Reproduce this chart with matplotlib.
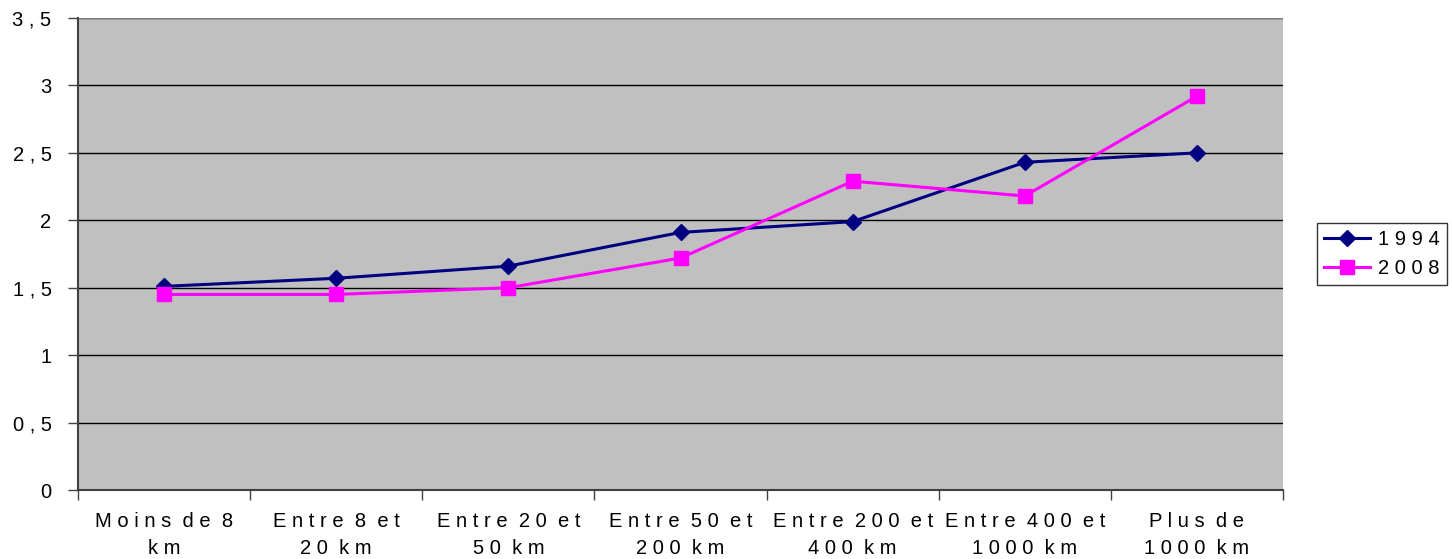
import numpy as np
import matplotlib
matplotlib.use('Agg')
import matplotlib.pyplot as plt
from matplotlib.ticker import FixedLocator, NullFormatter

# Distance classes and mean values for both survey years
categories = ['Moins de 8\nkm', 'Entre 8 et\n20 km', 'Entre 20 et\n50 km', 'Entre 50 et\n200 km',
              'Entre 200 et\n400 km', 'Entre 400 et\n1000 km', 'Plus de\n1000 km']
v1994 = [1.51, 1.57, 1.66, 1.91, 1.99, 2.43, 2.50]
v2008 = [1.45, 1.45, 1.50, 1.72, 2.29, 2.18, 2.92]
yticks = [0, 0.5, 1, 1.5, 2, 2.5, 3, 3.5]


def spaced(s):
    # wide letter spacing, words separated a bit more
    return '\n'.join('  '.join(' '.join(w) for w in line.split(' ')) for line in s.split('\n'))


plt.rcParams['font.family'] = 'Liberation Sans'
fig = plt.figure(figsize=(14.52, 5.59), dpi=100)
ax = fig.add_axes([78 / 1452, 69 / 559, 1205 / 1452, 472 / 559])
ax.set_facecolor('#C0C0C0')

x = np.arange(len(categories))
ax.plot(x, v1994, color='#000080', lw=2.2, marker='D', ms=8, label=spaced('1994'), zorder=3)
ax.plot(x, v2008, color='#FF00FF', lw=2.2, marker='s', ms=10, label=spaced('2008'), zorder=3)

ax.set_xlim(-0.5, len(categories) - 0.5)
ax.set_ylim(0, 3.5)
ax.set_yticks(yticks)
ax.set_yticklabels([spaced(f'{t:g}'.replace('.', ',')) for t in yticks], fontsize=14.5)
ax.yaxis.grid(True, color='black', lw=1)
for t in yticks[-1:]:
    ax.axhline(t, color='#808080', lw=1.5)

ax.set_xticks(x)
ax.set_xticklabels([spaced(c) for c in categories], fontsize=14.5, linespacing=1.5)
ax.tick_params(axis='x', which='major', length=0, pad=16)
ax.xaxis.set_minor_locator(FixedLocator(np.arange(len(categories) + 1) - 0.5))
ax.xaxis.set_minor_formatter(NullFormatter())
ax.tick_params(axis='x', which='minor', length=7, width=1, color='#404040')
ax.tick_params(axis='y', length=7, width=1, color='#404040', pad=12)

for side in ['top', 'right']:
    ax.spines[side].set_visible(False)
ax.spines['left'].set_color('#404040')
ax.spines['left'].set_linewidth(1.5)
ax.spines['bottom'].set_color('#404040')
ax.spines['bottom'].set_linewidth(1.5)

leg = ax.legend(loc='center left', bbox_to_anchor=(1.028, 0.5), fontsize=14.5, frameon=True,
                fancybox=False, edgecolor='black', handlelength=2.3, borderpad=0.35,
                labelspacing=0.5, handletextpad=0.4, borderaxespad=0)
leg.get_frame().set_linewidth(1)

fig.savefig('out.png', dpi=100)
